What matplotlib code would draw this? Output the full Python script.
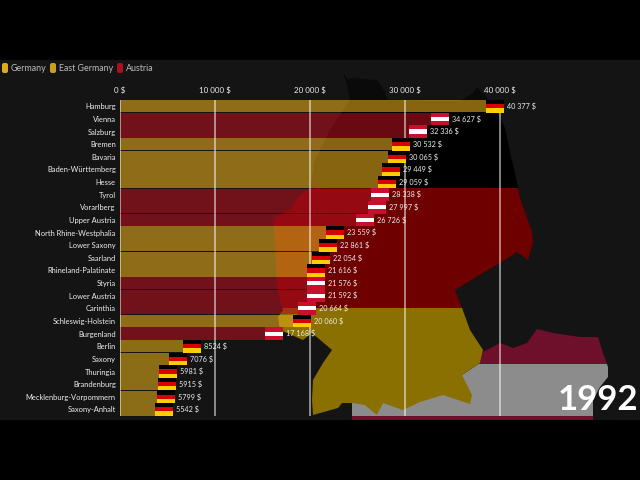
import matplotlib
matplotlib.use("Agg")
import matplotlib.pyplot as plt
from matplotlib.patches import Polygon, Rectangle, FancyBboxPatch

plt.rcParams['font.family'] = ['Lato', 'DejaVu Sans']

# --- data ---
regions = ["Hamburg", "Vienna", "Salzburg", "Bremen", "Bavaria", "Baden-Württemberg", "Hesse",
           "Tyrol", "Vorarlberg", "Upper Austria", "North Rhine-Westphalia", "Lower Saxony",
           "Saarland", "Rhineland-Palatinate", "Styria", "Lower Austria", "Carinthia",
           "Schleswig-Holstein", "Burgenland", "Berlin", "Saxony", "Thuringia", "Brandenburg",
           "Mecklenburg-Vorpommern", "Saxony-Anhalt"]
values = [40377, 34627, 32336, 30532, 30065, 29449, 29059, 28338, 27997, 26726, 23559, 22861,
          22054, 21616, 21576, 21592, 20664, 20060, 17168, 8524, 7076, 5981, 5915, 5799, 5542]
groups = ["G", "A", "A", "G", "G", "G", "G", "A", "A", "A", "G", "G", "G", "G", "A", "A", "A",
          "G", "A", "E", "E", "E", "E", "E", "E"]
ticks = [0, 10000, 20000, 30000, 40000]
legend_names = ["Germany", "East Germany", "Austria"]
year = "1992"

W, H = 640, 480
BG = "#141414"
bar_colors = {"G": "#e0a81c", "E": "#dcaa1a", "A": "#b0101f"}
legend_colors = ["#e0a81c", "#c8a01e", "#a81020"]

# outlines of the background map, in pixels
germany_xy = [(343, 72), (348, 80), (352, 78), (377, 80), (385, 92), (388, 100), (420, 101), (460, 101),
              (473, 93), (477, 87), (485, 95), (497, 112), (505, 128), (510, 152), (517, 182),
              (520, 198), (532, 232), (533, 243), (528, 260), (517, 252), (500, 263), (483, 273),
              (455, 290), (462, 308), (470, 330), (483, 350), (480, 363), (462, 375), (472, 395),
              (470, 404), (443, 395), (420, 402), (403, 410), (383, 403), (377, 415), (365, 405),
              (353, 403), (342, 403), (338, 408), (313, 415), (312, 400), (313, 380), (323, 363),
              (332, 350), (312, 333), (303, 340), (280, 330), (278, 317), (283, 310), (277, 290),
              (275, 250), (273, 218), (290, 210), (300, 195), (310, 188), (315, 160), (330, 130),
              (350, 100), (347, 85)]
austria_xy = [(352, 420), (352, 403), (440, 385), (462, 375), (480, 363), (483, 352), (500, 343),
              (513, 348), (527, 343), (537, 329), (553, 333), (580, 337), (598, 337), (603, 353),
              (608, 367), (608, 377), (600, 387), (593, 400), (593, 420)]

fig = plt.figure(figsize=(W / 100, H / 100), dpi=100, facecolor="black")

# background with the map
bg = fig.add_axes([0, 0, 1, 1])
bg.set_xlim(0, W)
bg.set_ylim(H, 0)
bg.axis("off")
bg.add_patch(Rectangle((0, 60), W, 360, color=BG, lw=0))


def flag_map(xy, bands):
    outline = Polygon(xy, closed=True, transform=bg.transData, fc="none", ec="none")
    bg.add_patch(outline)
    for top, bottom, col in bands:
        r = Rectangle((0, top), W, bottom - top, color=col, lw=0)
        bg.add_patch(r)
        r.set_clip_path(outline)


flag_map(austria_xy, [(320, 364, "#6e0f2c"), (364, 416, "#8c8c8c"), (416, 420, "#6e0f2c")])
flag_map(germany_xy, [(60, 188, "#000000"), (188, 308, "#6e0000"), (308, 420, "#8a7000")])
# top of the map is faded out
bg.add_patch(Rectangle((0, 60), W, 40, color=BG, alpha=0.55, lw=0))

# main axes, 95 px per 10 000 $
left, right, top, bottom = 120, 640, 100, 415.7
ax = fig.add_axes([left / W, 1 - bottom / H, (right - left) / W, (bottom - top) / H])
ax.patch.set_alpha(0)
ax.set_xlim(0, (right - left) / 0.0095)
ax.set_ylim(len(regions) - 0.5, -0.5)
for s in ax.spines.values():
    s.set_visible(False)

rows = list(range(len(regions)))
ax.barh(rows, values, height=0.97, color=[bar_colors[g] for g in groups], alpha=0.6, lw=0, zorder=2)

for t in ticks:
    ax.axvline(t, color="white", alpha=0.6, lw=1.2, zorder=3)

# flags at the bar ends
flag_w = 18 / 0.0095
de = ["#000000", "#d80000", "#ffce00"]
at = ["#c8102e", "#ffffff", "#c8102e"]
for i, (v, g) in enumerate(zip(values, groups)):
    cols = at if g == "A" else de
    for k, c in enumerate(cols):
        ax.barh(i - 1 / 3 + k / 3, flag_w, left=v - flag_w, height=1 / 3, color=c, lw=0, zorder=4)
    txt = f"{v:,}".replace(",", " ") if v >= 10000 else str(v)
    ax.annotate(txt + " $", (v, i), xytext=(3, 0), textcoords="offset pixels", color="#eeeeee",
                fontsize=5.2, va="center", ha="left", zorder=5)

ax.set_yticks(rows, regions)
ax.set_xticks(ticks, [f"{t:,}".replace(",", " ") + " $" for t in ticks])
ax.tick_params(axis="y", length=0, pad=3, labelsize=5.4, labelcolor="#eeeeee")
ax.tick_params(axis="x", length=0, pad=4, labelsize=5.7, labelcolor="#eeeeee",
               top=True, labeltop=True, bottom=False, labelbottom=False)

# legend
for x, name, c in zip([2, 50, 117], legend_names, legend_colors):
    bg.add_patch(FancyBboxPatch((x, 63), 6, 10, boxstyle="round,pad=0,rounding_size=2",
                                fc=c, ec="none"))
    bg.text(x + 9, 68.5, name, color="#bbbbbb", fontsize=6.4, va="center", ha="left")

bg.text(638, 410, year, color="white", fontsize=25, fontweight="bold", ha="right", va="baseline",
        zorder=10)

fig.savefig("out.png", dpi=100, facecolor=fig.get_facecolor())
